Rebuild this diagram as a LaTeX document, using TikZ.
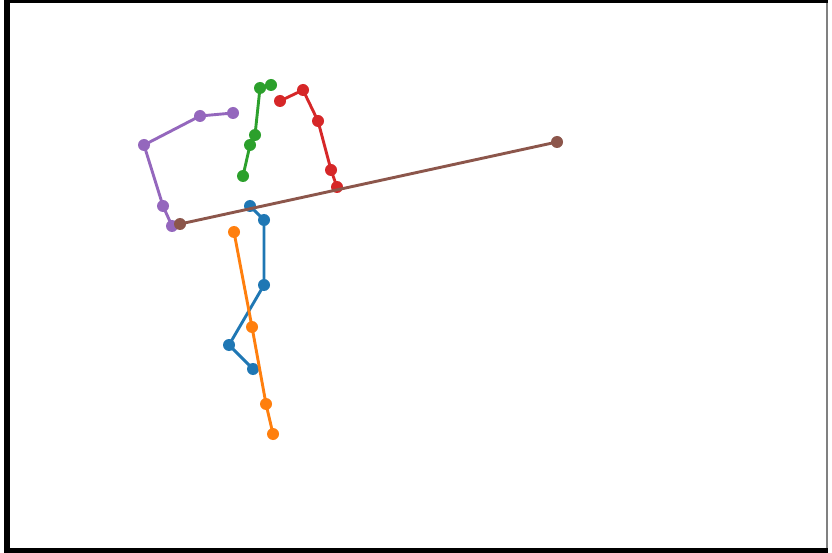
\documentclass[tikz,border=0pt]{standalone}
\usepackage{xcolor}
\usepackage{tikz}
\usetikzlibrary{positioning, calc}

\definecolor{tabblue}{HTML}{1F77B4}
\definecolor{taborange}{HTML}{FF7F0E}
\definecolor{tabgreen}{HTML}{2CA02C}
\definecolor{tabred}{HTML}{D62728}
\definecolor{tabpurple}{HTML}{9467BD}
\definecolor{tabbrown}{HTML}{8C564B}

\begin{document}
\begin{tikzpicture}[x=1pt, y=-1pt,
    trace/.style={line width=2.9pt, line cap=round, line join=round},
    dot/.style={circle, inner sep=0pt, minimum size=12pt}]
        % Frame
        \useasboundingbox (0,0) rectangle (832,553);
        \fill[black] (4,0) rectangle (828,553);
        \fill[white] (10,3) rectangle (826,548);
        \draw[gray, line width=2pt] (827,3) -- (827,548);

        % Blue series
        \coordinate (b1) at (250,206);
        \coordinate (b2) at (264,220);
        \coordinate (b3) at (264,285);
        \coordinate (b4) at (229,345);
        \coordinate (b5) at (253,369);
        \draw[trace, tabblue] (b1) -- (b2) -- (b3) -- (b4) -- (b5);
        \foreach \n in {b1,b2,b3,b4,b5}
            \node[dot, fill=tabblue] (\n-dot) at (\n) {};

        % Orange series
        \coordinate (o1) at (234,232);
        \coordinate (o2) at (252,327);
        \coordinate (o3) at (266,404);
        \coordinate (o4) at (273,434);
        \draw[trace, taborange] (o1) -- (o2) -- (o3) -- (o4);
        \foreach \n in {o1,o2,o3,o4}
            \node[dot, fill=taborange] (\n-dot) at (\n) {};

        % Green series
        \coordinate (g1) at (271,85);
        \coordinate (g2) at (260,88);
        \coordinate (g3) at (255,135);
        \coordinate (g4) at (250,145);
        \coordinate (g5) at (243,176);
        \draw[trace, tabgreen] (g1) -- (g2) -- (g3) -- (g4) -- (g5);
        \foreach \n in {g1,g2,g3,g4,g5}
            \node[dot, fill=tabgreen] (\n-dot) at (\n) {};

        % Red series
        \coordinate (r1) at (280,101);
        \coordinate (r2) at (303,90);
        \coordinate (r3) at (318,121);
        \coordinate (r4) at (331,170);
        \coordinate (r5) at (337,187);
        \draw[trace, tabred] (r1) -- (r2) -- (r3) -- (r4) -- (r5);
        \foreach \n in {r1,r2,r3,r4,r5}
            \node[dot, fill=tabred] (\n-dot) at (\n) {};

        % Purple series
        \coordinate (p1) at (233,113);
        \coordinate (p2) at (200,116);
        \coordinate (p3) at (144,145);
        \coordinate (p4) at (163,206);
        \coordinate (p5) at (172,226);
        \draw[trace, tabpurple] (p1) -- (p2) -- (p3) -- (p4) -- (p5);
        \foreach \n in {p1,p2,p3,p4,p5}
            \node[dot, fill=tabpurple] (\n-dot) at (\n) {};

        % Brown series
        \coordinate (w1) at (180,224);
        \coordinate (w2) at (557,142);
        \draw[trace, tabbrown] (w1) -- (w2);
        \foreach \n in {w1,w2}
            \node[dot, fill=tabbrown] (\n-dot) at (\n) {};
    \end{tikzpicture}
\end{document}
